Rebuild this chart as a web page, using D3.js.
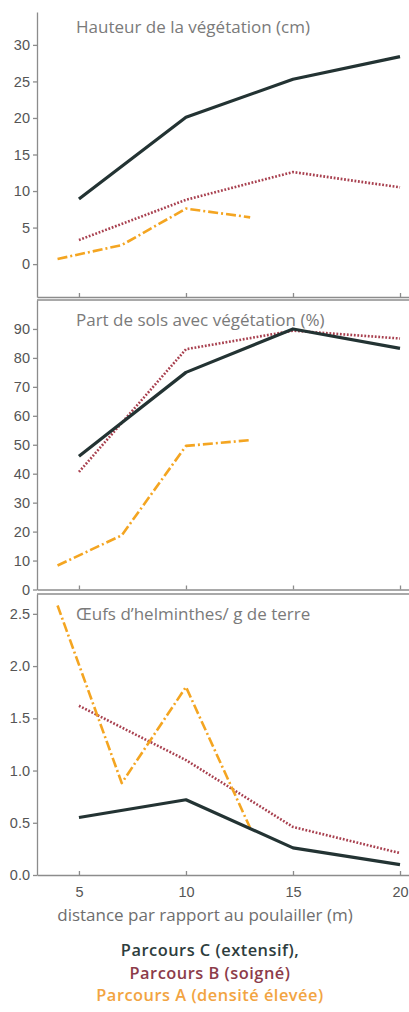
<!DOCTYPE html>
<html lang="fr">
<head>
    <meta charset="UTF-8">
    <title>Parcours - végétation et helminthes</title>
    <script src="https://d3js.org/d3.v7.min.js"></script>
    <style>
        body { margin: 0; background: #fff; }
        .axis path, .axis line { stroke: #8c8c8c; stroke-width: 1.3px; }
        .axis text { font-family: "Liberation Sans", Arial, sans-serif; font-size: 14.5px; fill: #555; }
        .title { font-family: "Open Sans", sans-serif; font-size: 17px; fill: #7a7a7a; }
        .legend { font-family: "Open Sans", sans-serif; font-size: 16.4px; font-weight: 600; letter-spacing: 0.5px; text-anchor: middle; }
    </style>
</head>
<body>
<svg width="409" height="1012"></svg>
<script>
    // distances (m)
    const distMain = [5, 10, 15, 20];
    const distA = [4, 7, 10, 13];

    // Hauteur de la végétation (cm)
    const hauteurC = [8.9, 20.1, 25.3, 28.4];
    const hauteurB = [3.3, 8.8, 12.6, 10.5];
    const hauteurA = [0.7, 2.6, 7.6, 6.4];

    // Part de sols avec végétation (%)
    const solsC = [46, 75, 90, 83.3];
    const solsB = [40.6, 83, 89.4, 86.7];
    const solsA = [8.3, 18.7, 49.6, 51.6];

    // Oeufs d'helminthes / g de terre
    const oeufsC = [0.55, 0.72, 0.26, 0.1];
    const oeufsB = [1.62, 1.10, 0.46, 0.21];
    const oeufsA = [2.58, 0.88, 1.80, 0.45];

    const xTicks = [5, 10, 15, 20];
    const legendLabels = ["Parcours C (extensif),", "Parcours B (soigné)", "Parcours A (densité élevée)"];
    const legendColors = ["#2e3d3d", "#8c3c4a", "#f2a442"];

    const svg = d3.select("svg");
    const x = d3.scaleLinear().domain([3.04, 20.42]).range([37, 409]);

    const styles = {
        C: { color: "#233333", width: 3.2, dash: null },
        B: { color: "#a8404f", width: 2.6, dash: "1.8,1.7" },
        A: { color: "#f4a521", width: 2.6, dash: "10,3,2,3" }
    };

    const panels = [
        { title: "Hauteur de la végétation (cm)", top: 12, bottom: 297, domain: [-4.5, 34.5],
          ticks: [0, 5, 10, 15, 20, 25, 30], fmt: d3.format("d"), border: false, titleY: 33,
          series: [["B", hauteurB, distMain], ["A", hauteurA, distA], ["C", hauteurC, distMain]] },
        { title: "Part de sols avec végétation (%)", top: 300, bottom: 589.5, domain: [0, 100],
          ticks: d3.range(0, 91, 10), fmt: d3.format("d"), border: true, titleY: 326,
          series: [["B", solsB, distMain], ["A", solsA, distA], ["C", solsC, distMain]] },
        { title: "Œufs d\u2019helminthes/ g de terre", top: 594, bottom: 875, domain: [0, 2.69],
          ticks: [0, 0.5, 1, 1.5, 2, 2.5], fmt: d3.format(".1f"), border: true, titleY: 620,
          series: [["B", oeufsB, distMain], ["A", oeufsA, distA], ["C", oeufsC, distMain]] }
    ];

    panels.forEach((p, i) => {
        const y = d3.scaleLinear().domain(p.domain).range([p.bottom, p.top]);
        const g = svg.append("g");

        if (p.border) {
            g.append("line")
                .attr("x1", x.range()[0]).attr("x2", x.range()[1])
                .attr("y1", p.top).attr("y2", p.top)
                .attr("stroke", "#8c8c8c").attr("stroke-width", 1.3);
        }

        g.append("g").attr("class", "axis")
            .attr("transform", `translate(${x.range()[0]},0)`)
            .call(d3.axisLeft(y).tickValues(p.ticks).tickFormat(p.fmt).tickSize(4).tickSizeOuter(0).tickPadding(3));

        const last = i === panels.length - 1;
        g.append("g").attr("class", "axis")
            .attr("transform", `translate(0,${p.bottom})`)
            .call(d3.axisBottom(x).tickValues(xTicks).tickSizeInner(-4).tickSizeOuter(0).tickPadding(12)
                .tickFormat(last ? d3.format("d") : ""));

        g.append("text").attr("class", "title")
            .attr("x", 76).attr("y", p.titleY)
            .text(p.title);

        const line = d3.line().x(d => x(d[0])).y(d => y(d[1]));
        p.series.forEach(([key, vals, xs]) => {
            const s = styles[key];
            g.append("path")
                .datum(xs.map((d, j) => [d, vals[j]]))
                .attr("d", line)
                .attr("fill", "none")
                .attr("stroke", s.color)
                .attr("stroke-width", s.width)
                .attr("stroke-dasharray", s.dash)
                .attr("stroke-linejoin", "round");
        });
    });

    svg.append("text").attr("class", "title")
        .attr("x", 205).attr("y", 921).attr("text-anchor", "middle")
        .style("fill", "#6e6e6e")
        .text("distance par rapport au poulailler (m)");

    // legend lines
    svg.selectAll(".legend").data(legendLabels).join("text")
        .attr("class", "legend")
        .attr("x", 210)
        .attr("y", (d, i) => 956 + i * 22.6)
        .attr("fill", (d, i) => legendColors[i])
        .text(d => d);
</script>
</body>
</html>
